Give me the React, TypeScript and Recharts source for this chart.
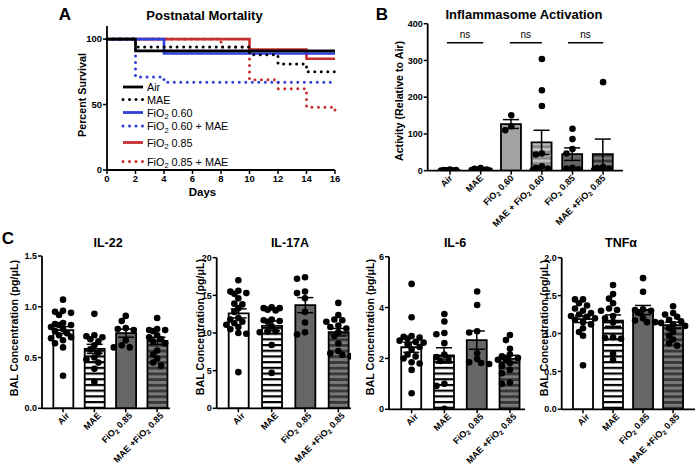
import React from "react";
import {
  Bar,
  Cell,
  ComposedChart,
  ErrorBar,
  Legend,
  Line,
  LineChart,
  ReferenceLine,
  Scatter,
  XAxis,
  YAxis,
} from "recharts";

const FONT = "'Liberation Sans', Arial, Helvetica, sans-serif";

// ---- A: survival (percent) at each day ----
const days = [0, 2, 4, 6, 8, 10, 12, 14, 16];
const survAir = [100, 91, 91, 91, 91, 91, 91, 91, 91];
const survMae = [100, 94, 94, 94, 94, 88, 81, 75, 75];
const survFio60 = [100, 100, 89, 89, 89, 89, 89, 89, 89];
const survFio60Mae = [100, 71, 67, 67, 67, 67, 67, 67, 67];
const survFio85 = [100, 100, 100, 100, 100, 92, 92, 85, 85];
const survFio85Mae = [100, 100, 100, 100, 94, 69, 62, 48, 45];

// ---- B: inflammasome activation ----
const groupsB = ["Air", "MAE", "FiO₂ 0.60", "MAE + FiO₂ 0.60", "FiO₂ 0.85", "MAE +FiO₂ 0.85"];
const meansB = [1.5, 3, 127, 77, 45, 45];
const semsB = [0.5, 1, 12, 33, 17, 41];
const ptsB = [
  [3, 2, 1.5, 1, 0.5, 0.2],
  [7, 5, 3, 2.5, 1.5, 1, 0.5],
  [151, 121, 110],
  [304, 219, 176, 47, 44, 12, 8, 6, 4, 2],
  [114, 86, 59, 47, 8, 6, 4],
  [241, 10, 7, 5, 3, 2],
];

// ---- C: BAL cytokines ----
const groupsC = ["Air", "MAE", "FiO₂ 0.85", "MAE +FiO₂ 0.85"];

const il22Means = [0.77, 0.585, 0.74, 0.665];
const il22Sems = [0.035, 0.045, 0.04, 0.035];
const il22Pts = [
  [1.07, 0.96, 0.95, 0.94, 0.92, 0.84, 0.83, 0.82, 0.82, 0.8, 0.78, 0.76, 0.74, 0.72, 0.7, 0.69, 0.67, 0.64, 0.6, 0.32],
  [0.93, 0.72, 0.71, 0.7, 0.68, 0.66, 0.62, 0.58, 0.55, 0.5, 0.48, 0.45, 0.39, 0.26],
  [0.91, 0.86, 0.79, 0.78, 0.77, 0.67, 0.62, 0.6, 0.6],
  [0.89, 0.78, 0.77, 0.77, 0.76, 0.72, 0.7, 0.68, 0.66, 0.64, 0.57, 0.53, 0.49, 0.45, 0.42],
];

const il17Means = [12.6, 10.95, 13.7, 10.1];
const il17Sems = [0.6, 0.65, 1.0, 0.5];
const il17Pts = [
  [17.0, 15.6, 15.5, 15.3, 15.2, 14.6, 13.9, 13.8, 13.3, 12.8, 12.0, 11.8, 11.5, 11.3, 11.1, 10.8, 10.5, 10.0, 9.9, 4.8],
  [13.4, 13.3, 13.3, 13.1, 13.0, 11.8, 11.7, 11.6, 11.5, 10.9, 10.2, 10.2, 10.1, 8.4, 4.7],
  [17.2, 17.4, 15.5, 15.3, 14.6, 12.8, 11.4, 10.1, 9.8],
  [14.0, 12.4, 11.8, 11.7, 11.5, 11.0, 10.8, 10.6, 10.1, 9.6, 8.6, 7.6, 7.3, 7.1, 6.9],
];

const il6Means = [2.44, 2.12, 2.72, 1.98];
const il6Sems = [0.2, 0.3, 0.36, 0.14];
const il6Pts = [
  [4.93, 3.62, 2.88, 2.85, 2.82, 2.78, 2.7, 2.65, 2.62, 2.55, 2.45, 2.35, 2.15, 2.08, 2.0, 1.85, 1.8, 1.55, 0.63],
  [3.75, 3.45, 3.0, 2.95, 2.6, 2.15, 2.05, 1.95, 1.9, 1.0, 0.92, 0.02],
  [4.63, 4.1, 3.07, 3.02, 2.2, 1.98, 1.85, 1.82, 1.78],
  [2.92, 2.72, 2.38, 2.15, 2.08, 2.02, 1.98, 1.95, 1.82, 1.7, 1.55, 1.42, 1.05, 1.0],
];

const tnfMeans = [1.19, 1.17, 1.31, 1.11];
const tnfSems = [0.045, 0.075, 0.06, 0.04];
const tnfPts = [
  [1.45, 1.45, 1.4, 1.37, 1.33, 1.3, 1.27, 1.25, 1.23, 1.22, 1.2, 1.18, 1.15, 1.12, 1.07, 1.02, 0.97, 0.58],
  [1.64, 1.52, 1.46, 1.4, 1.33, 1.31, 1.3, 1.23, 1.2, 1.15, 0.95, 0.94, 0.93, 0.73, 0.65],
  [1.73, 1.55, 1.32, 1.31, 1.3, 1.27, 1.2, 1.17, 1.15, 1.15],
  [1.36, 1.27, 1.25, 1.22, 1.18, 1.16, 1.14, 1.12, 1.1, 1.07, 1.02, 0.97, 0.92, 0.87, 0.84],
];

const RED = "#c62f2f";
const BLUE = "#2f3fd9";

// drawn bottom to top; legend shows them reversed
const seriesA = [
  { key: "fio85mae", name: "FiO₂ 0.85 + MAE", color: RED, dotted: true, vals: survFio85Mae },
  { key: "fio85", name: "FiO₂ 0.85", color: RED, dotted: false, vals: survFio85 },
  { key: "fio60mae", name: "FiO₂ 0.60 + MAE", color: BLUE, dotted: true, vals: survFio60Mae },
  { key: "fio60", name: "FiO₂ 0.60", color: BLUE, dotted: false, vals: survFio60 },
  { key: "mae", name: "MAE", color: "#000", dotted: true, vals: survMae },
  { key: "air", name: "Air", color: "#000", dotted: false, vals: survAir },
];

const survRows = days.map((d, i) => {
  const row: Record<string, number> = { day: d };
  seriesA.forEach((s) => (row[s.key] = s.vals[i]));
  return row;
});

const fillsB = ["#fff", "url(#stripeW)", "#a3a3a3", "url(#stripeL)", "#666", "url(#stripeD)"];
const fillsC = ["#fff", "url(#stripeW)", "#666", "url(#stripeD)"];

function sub(label: string, size: number, shift: number) {
  const parts = label.split("₂");
  if (parts.length < 2) return label;
  return [
    parts[0],
    <tspan key="s" dy={shift} fontSize={size}>2</tspan>,
    <tspan key="r" dy={-shift}>{parts[1]}</tspan>,
  ];
}

// spread dots sideways so they do not pile up (layout only)
function swarm(values: number[], pxPerUnit: number, step = 4, maxK = 7, minDist = 5.4) {
  const order = values.map((_, i) => i).sort((a, b) => values[b] - values[a]);
  const placed: { dx: number; py: number }[] = [];
  const dxs = values.map(() => 0);
  for (const i of order) {
    const py = values[i] * pxPerUnit;
    let chosen: number | null = null;
    let best = 0;
    let bestD = -1;
    for (let k = 0; k < maxK; k++) {
      const dx = k === 0 ? 0 : (k % 2 ? -1 : 1) * Math.ceil(k / 2) * step;
      const d = placed.length ? Math.min(...placed.map((p) => Math.hypot(p.dx - dx, p.py - py))) : Infinity;
      if (d >= minDist) {
        chosen = dx;
        break;
      }
      if (d > bestD) {
        bestD = d;
        best = dx;
      }
    }
    dxs[i] = chosen ?? best;
    placed.push({ dx: dxs[i], py });
  }
  return dxs;
}

function Caption({ x, y, size, children, rotate = false, weight = "bold" }: any) {
  return (
    <div
      style={{
        position: "absolute",
        left: x,
        top: y,
        transform: `translate(-50%,-50%)${rotate ? " rotate(-90deg)" : ""}`,
        fontSize: size,
        fontWeight: weight,
        fontFamily: FONT,
        whiteSpace: "nowrap",
        lineHeight: 1,
        color: "#000",
      }}
    >
      {children}
    </div>
  );
}

function CatTick(props: any) {
  const { x, y, payload, labels, shiftX = 3 } = props;
  const label = labels[Math.round(payload.value)] ?? "";
  return (
    <g transform={`translate(${x + shiftX},${y + 2})`}>
      <text transform="rotate(-45)" textAnchor="end" fontSize={9} fontWeight="bold" fontFamily={FONT} fill="#000">
        {sub(label, 6.5, 2)}
      </text>
    </g>
  );
}

function Dot(props: any) {
  const { cx, cy, payload } = props;
  if (cx == null || cy == null) return null;
  return <circle cx={cx + (payload?.dx ?? 0)} cy={cy} r={3.3} fill="#000" />;
}

const axisLine = { stroke: "#000", strokeWidth: 1.8 };
const tickLine = { stroke: "#000", strokeWidth: 1.5 };
const tickFont = { fill: "#000", fontSize: 9, fontWeight: "bold", fontFamily: FONT };

function BarPanel(props: any) {
  const { left, top, width, height, margin, yAxisWidth, xDomain, yDomain, yTicks, decimals, groups, means, sems, points, fills, dotStep = 4, labelShift = 7, children } = props;
  const xAxisHeight = 60;
  const plotH = height - margin.top - margin.bottom - xAxisHeight;
  const ppu = plotH / yDomain[1];
  const barRows = groups.map((_: string, i: number) => ({ x: i, y: means[i], sem: sems[i] }));
  const dotRows = points.flatMap((vals: number[], i: number) => {
    const dxs = swarm(vals, ppu, dotStep);
    return vals.map((v, j) => ({ x: i, y: v, dx: dxs[j] }));
  });
  return (
    <div style={{ position: "absolute", left, top }}>
      <ComposedChart width={width} height={height} data={barRows} margin={margin}>
        <XAxis
          type="number"
          dataKey="x"
          domain={xDomain}
          allowDataOverflow
          ticks={groups.map((_: string, i: number) => i)}
          interval={0}
          height={xAxisHeight}
          tickSize={4}
          axisLine={axisLine}
          tickLine={tickLine}
          tick={<CatTick labels={groups} shiftX={labelShift} />}
        />
        <YAxis
          type="number"
          dataKey="y"
          domain={yDomain}
          allowDataOverflow
          ticks={yTicks}
          interval={0}
          width={yAxisWidth}
          tickSize={4}
          tickMargin={1}
          axisLine={axisLine}
          tickLine={tickLine}
          tick={tickFont}
          tickFormatter={(v: number) => v.toFixed(decimals)}
        />
        <Bar dataKey="y" barSize={20} stroke="#000" strokeWidth={1.8} isAnimationActive={false}>
          {barRows.map((_: any, i: number) => (
            <Cell key={i} fill={fills[i]} />
          ))}
          <ErrorBar dataKey="sem" width={8} stroke="#000" strokeWidth={1.5} direction="y" />
        </Bar>
        <Scatter data={dotRows} dataKey="y" shape={Dot} isAnimationActive={false} />
        {children}
      </ComposedChart>
    </div>
  );
}

const legendY = [7, 19.5, 32.5, 46, 62.5, 81.5];

function SurvLegend() {
  const items = [...seriesA].reverse();
  return (
    <svg width={150} height={90} style={{ display: "block", overflow: "visible" }}>
      {items.map((s, i) => (
        <g key={s.key}>
          <line
            x1={5}
            x2={25}
            y1={legendY[i]}
            y2={legendY[i]}
            stroke={s.color}
            strokeWidth={s.dotted ? 3 : 2.8}
            strokeDasharray={s.dotted ? "0 6.5" : undefined}
            strokeLinecap={s.dotted ? "round" : "butt"}
          />
          <text x={29} y={legendY[i] + 4} fontSize={10.8} fontFamily={FONT} fill="#000">
            {sub(s.name, 7.5, 2.5)}
          </text>
        </g>
      ))}
    </svg>
  );
}

const nsPairs = [
  [-0.1, 1.08],
  [1.95, 3.0],
  [3.85, 5.0],
];

export default function App() {
  return (
    <div style={{ position: "absolute", left: 0, top: 0, width: 700, height: 474, overflow: "hidden", background: "#fff" }}>
      <svg width={0} height={0} style={{ position: "absolute" }}>
        <defs>
          <pattern id="stripeW" patternUnits="userSpaceOnUse" width={10} height={5.7}>
            <rect width={10} height={5.7} fill="#fff" />
            <rect width={10} height={2.2} fill="#000" />
          </pattern>
          <pattern id="stripeL" patternUnits="userSpaceOnUse" width={10} height={5.7}>
            <rect width={10} height={5.7} fill="#8a8a8a" />
            <rect width={10} height={2.5} fill="#c6c6c6" />
          </pattern>
          <pattern id="stripeD" patternUnits="userSpaceOnUse" width={10} height={5.7}>
            <rect width={10} height={5.7} fill="#7a7a7a" />
            <rect width={10} height={2.8} fill="#383838" />
          </pattern>
        </defs>
      </svg>

      {/* A */}
      <div style={{ position: "absolute", left: 0, top: 0 }}>
        <LineChart width={350} height={200} data={survRows} margin={{ top: 26, right: 15, bottom: 10, left: 67 }}>
          <XAxis
            dataKey="day"
            type="number"
            domain={[0, 16]}
            ticks={days}
            interval={0}
            height={20}
            tickSize={4}
            tickMargin={1}
            axisLine={axisLine}
            tickLine={tickLine}
            tick={{ ...tickFont, fontSize: 9.5 }}
          />
          <YAxis
            type="number"
            domain={[0, 110]}
            ticks={[0, 50, 100]}
            interval={0}
            width={40}
            tickSize={4}
            tickMargin={1}
            axisLine={axisLine}
            tickLine={tickLine}
            tick={{ ...tickFont, fontSize: 9.5 }}
          />
          {seriesA.map((s) => (
            <Line
              key={s.key}
              type="stepAfter"
              dataKey={s.key}
              name={s.name}
              stroke={s.color}
              strokeWidth={s.dotted ? 3 : 2.6}
              strokeDasharray={s.dotted ? "0 6.5" : undefined}
              strokeLinecap={s.dotted ? "round" : "butt"}
              dot={false}
              activeDot={false}
              isAnimationActive={false}
            />
          ))}
          <Legend
            layout="horizontal"
            verticalAlign="middle"
            align="center"
            wrapperStyle={{ left: 118, top: 80, width: 150, height: 90 }}
            content={() => <SurvLegend />}
          />
        </LineChart>
      </div>
      <Caption x={65} y={14} size={17}>A</Caption>
      <Caption x={204.5} y={14.5} size={13}>Postnatal Mortality</Caption>
      <Caption x={82} y={95} size={10.7} rotate>Percent Survival</Caption>
      <Caption x={202.5} y={193} size={11.5}>Days</Caption>

      {/* B */}
      <BarPanel
        left={360}
        top={0}
        width={340}
        height={240}
        margin={{ top: 23.7, right: 77, bottom: 9.3, left: 27.7 }}
        yAxisWidth={40}
        xDomain={[-0.73, 5.65]}
        yDomain={[0, 400]}
        yTicks={[0, 100, 200, 300, 400]}
        decimals={0}
        groups={groupsB}
        means={meansB}
        sems={semsB}
        points={ptsB}
        fills={fillsB}
        dotStep={3}
        labelShift={3}
      >
        {nsPairs.map((p, i) => (
          <ReferenceLine
            key={i}
            segment={[
              { x: p[0], y: 348 },
              { x: p[1], y: 348 },
            ]}
            stroke="#000"
            strokeWidth={1.5}
            label={{ value: "ns", position: "top", fill: "#000", fontSize: 10, fontFamily: FONT, offset: 5 }}
          />
        ))}
      </BarPanel>
      <Caption x={382} y={14} size={17}>B</Caption>
      <Caption x={524} y={14} size={13}>Inflammasome Activation</Caption>
      <Caption x={399} y={101} size={10.7} rotate>Activity (Relative to Air)</Caption>

      {/* C */}
      <BarPanel
        left={0}
        top={230}
        width={175}
        height={244}
        margin={{ top: 26, right: 5, bottom: 5.7, left: 12 }}
        yAxisWidth={30}
        xDomain={[-0.67, 3.41]}
        yDomain={[0, 1.5]}
        yTicks={[0, 0.5, 1, 1.5]}
        decimals={1}
        groups={groupsC}
        means={il22Means}
        sems={il22Sems}
        points={il22Pts}
        fills={fillsC}
      />
      <BarPanel
        left={175}
        top={230}
        width={178}
        height={244}
        margin={{ top: 27.7, right: 2, bottom: 5.7, left: 11.7 }}
        yAxisWidth={30}
        xDomain={[-0.65, 3.38]}
        yDomain={[0, 20]}
        yTicks={[0, 5, 10, 15, 20]}
        decimals={0}
        groups={groupsC}
        means={il17Means}
        sems={il17Sems}
        points={il17Pts}
        fills={fillsC}
      />
      <BarPanel
        left={355}
        top={230}
        width={172}
        height={244}
        margin={{ top: 26.7, right: 2, bottom: 4.7, left: 10 }}
        yAxisWidth={24}
        xDomain={[-0.69, 3.46]}
        yDomain={[0, 6]}
        yTicks={[0, 2, 4, 6]}
        decimals={0}
        groups={groupsC}
        means={il6Means}
        sems={il6Sems}
        points={il6Pts}
        fills={fillsC}
      />
      <BarPanel
        left={527}
        top={230}
        width={173}
        height={244}
        margin={{ top: 27.7, right: 5, bottom: 4.7, left: 4.7 }}
        yAxisWidth={30}
        xDomain={[-0.71, 3.73]}
        yDomain={[0, 2]}
        yTicks={[0, 0.5, 1, 1.5, 2]}
        decimals={1}
        groups={groupsC}
        means={tnfMeans}
        sems={tnfSems}
        points={tnfPts}
        fills={fillsC}
      />
      <Caption x={8} y={237.5} size={17}>C</Caption>
      <Caption x={108} y={243} size={12.5}>IL-22</Caption>
      <Caption x={290} y={243} size={12.5}>IL-17A</Caption>
      <Caption x={455} y={243} size={12.5}>IL-6</Caption>
      <Caption x={621} y={243} size={12.5}>TNFα</Caption>
      <Caption x={14} y={328} size={10.7} rotate>BAL Concentration (pg/μL)</Caption>
      <Caption x={200} y={327} size={10.7} rotate>BAL Concentration (pg/μL)</Caption>
      <Caption x={370} y={327} size={10.7} rotate>BAL Concentration (pg/μL)</Caption>
      <Caption x={544} y={328} size={10.7} rotate>BAL Concentration (pg/μL)</Caption>
    </div>
  );
}
